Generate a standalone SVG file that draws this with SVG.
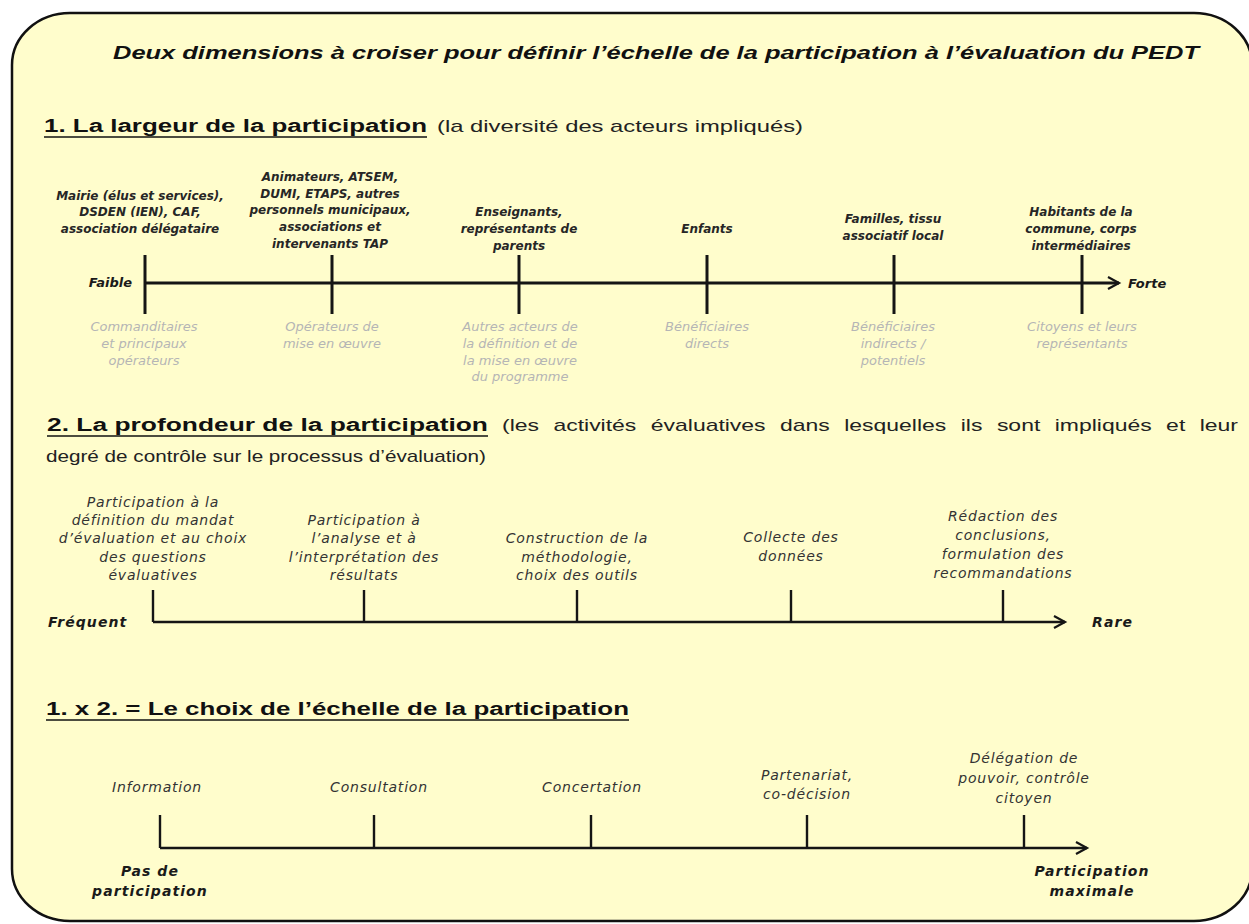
<svg xmlns="http://www.w3.org/2000/svg" width="1249" height="924" viewBox="0 0 1249 924">
<defs>
<style>
.frame{fill:#FFFDCC;stroke:#111;stroke-width:2.5}
.ttl{font-family:"Liberation Sans",Arial,sans-serif;font-size:18px;font-weight:bold;font-style:italic;fill:#111}
.hd{font-family:"Liberation Sans",Arial,sans-serif;font-size:18px;font-weight:bold;fill:#111}
.rg{font-family:"Liberation Sans",Arial,sans-serif;font-size:17px;fill:#222}
.ul{stroke:#111;stroke-width:1.6}
.t1{font-family:"DejaVu Sans",sans-serif;font-size:12px;font-weight:bold;font-style:oblique;fill:#262626;text-anchor:middle}
.e1{font-family:"DejaVu Sans",sans-serif;font-size:13px;font-weight:bold;font-style:oblique;fill:#1a1a1a}
.g1{font-family:"DejaVu Sans",sans-serif;font-size:13px;font-style:oblique;fill:#b5b5b5;text-anchor:middle}
.l2{font-family:"DejaVu Sans",sans-serif;font-size:14px;font-style:oblique;fill:#333;text-anchor:middle;letter-spacing:0.8px}
.b2{font-family:"DejaVu Sans",sans-serif;font-size:14px;font-weight:bold;font-style:oblique;fill:#1a1a1a;letter-spacing:1.1px}
.ax{stroke:#151515;stroke-width:2.4;fill:none}
.ax1{stroke:#151515;stroke-width:3;fill:none}
.tk{stroke:#151515;stroke-width:2.4}
.tk1{stroke:#151515;stroke-width:3}
</style>
<marker id="arr" markerUnits="userSpaceOnUse" markerWidth="16" markerHeight="16" viewBox="0 0 16 16" refX="13" refY="8" orient="auto">
<path d="M2,2 L13,8 L2,14" fill="none" stroke="#151515" stroke-width="2.2"/>
</marker>
</defs>

<rect class="frame" x="12" y="13" width="1240" height="908" rx="58" ry="52"/>

<g id="title">
<text class="ttl" x="113" y="59" textLength="1086" lengthAdjust="spacingAndGlyphs">Deux dimensions à croiser pour définir l’échelle de la participation à l’évaluation du PEDT</text>
</g>

<g id="heading1">
<text class="hd" x="44" y="132" textLength="383" lengthAdjust="spacingAndGlyphs">1. La largeur de la participation</text>
<line class="ul" x1="44" y1="137" x2="427" y2="137"/>
<text class="rg" x="437" y="132" textLength="366" lengthAdjust="spacingAndGlyphs">(la diversité des acteurs impliqués)</text>
</g>

<g id="heading2">
<text class="hd" x="47" y="431" textLength="441" lengthAdjust="spacingAndGlyphs">2. La profondeur de la participation</text>
<line class="ul" x1="47" y1="436" x2="488" y2="436"/>
<text class="rg" x="502" y="431" textLength="736" lengthAdjust="spacingAndGlyphs" word-spacing="6">(les activités évaluatives dans lesquelles ils sont impliqués et leur</text>
<text class="rg" x="46" y="462" textLength="440" lengthAdjust="spacingAndGlyphs">degré de contrôle sur le processus d’évaluation)</text>
</g>

<g id="heading3">
<text class="hd" x="46" y="715" textLength="583" lengthAdjust="spacingAndGlyphs">1. x 2. = Le choix de l’échelle de la participation</text>
<line class="ul" x1="46" y1="720" x2="629" y2="720"/>
</g>

<g id="connectors">
<line class="ax1" x1="145" y1="283" x2="1119" y2="283" marker-end="url(#arr)"/>
<line class="ax" x1="153" y1="622" x2="1065" y2="622" marker-end="url(#arr)"/>
<line class="ax" x1="160" y1="848" x2="1087" y2="848" marker-end="url(#arr)"/>
</g>

<g id="axis1-ends">
<text class="e1" x="132" y="287" text-anchor="end">Faible</text>
<text class="e1" x="1128" y="288">Forte</text>
</g>

<g id="n1-1">
<line class="tk1" x1="145" y1="255" x2="145" y2="314"/>
<text class="t1" x="140" y="200">Mairie (élus et services),</text>
<text class="t1" x="140" y="216">DSDEN (IEN), CAF,</text>
<text class="t1" x="140" y="233">association délégataire</text>
<text class="g1" x="144" y="331">Commanditaires</text>
<text class="g1" x="144" y="348">et principaux</text>
<text class="g1" x="144" y="365">opérateurs</text>
</g>
<g id="n1-2">
<line class="tk1" x1="332" y1="255" x2="332" y2="314"/>
<text class="t1" x="330" y="181">Animateurs, ATSEM,</text>
<text class="t1" x="330" y="198">DUMI, ETAPS, autres</text>
<text class="t1" x="330" y="214">personnels municipaux,</text>
<text class="t1" x="330" y="231">associations et</text>
<text class="t1" x="330" y="248">intervenants TAP</text>
<text class="g1" x="332" y="331">Opérateurs de</text>
<text class="g1" x="332" y="348">mise en œuvre</text>
</g>
<g id="n1-3">
<line class="tk1" x1="519" y1="255" x2="519" y2="314"/>
<text class="t1" x="519" y="216">Enseignants,</text>
<text class="t1" x="519" y="233">représentants de</text>
<text class="t1" x="519" y="250">parents</text>
<text class="g1" x="520" y="331">Autres acteurs de</text>
<text class="g1" x="520" y="348">la définition et de</text>
<text class="g1" x="520" y="365">la mise en œuvre</text>
<text class="g1" x="520" y="381">du programme</text>
</g>
<g id="n1-4">
<line class="tk1" x1="707" y1="255" x2="707" y2="314"/>
<text class="t1" x="707" y="233">Enfants</text>
<text class="g1" x="707" y="331">Bénéficiaires</text>
<text class="g1" x="707" y="348">directs</text>
</g>
<g id="n1-5">
<line class="tk1" x1="894" y1="255" x2="894" y2="314"/>
<text class="t1" x="893" y="223">Familles, tissu</text>
<text class="t1" x="893" y="240">associatif local</text>
<text class="g1" x="893" y="331">Bénéficiaires</text>
<text class="g1" x="893" y="348">indirects /</text>
<text class="g1" x="893" y="365">potentiels</text>
</g>
<g id="n1-6">
<line class="tk1" x1="1082" y1="255" x2="1082" y2="314"/>
<text class="t1" x="1081" y="216">Habitants de la</text>
<text class="t1" x="1081" y="233">commune, corps</text>
<text class="t1" x="1081" y="250">intermédiaires</text>
<text class="g1" x="1082" y="331">Citoyens et leurs</text>
<text class="g1" x="1082" y="348">représentants</text>
</g>

<g id="axis2-ends">
<text class="b2" x="48" y="627">Fréquent</text>
<text class="b2" x="1092" y="627">Rare</text>
</g>
<g id="n2-1">
<line class="tk" x1="153" y1="590" x2="153" y2="622"/>
<text class="l2" x="153" y="507">Participation à la</text>
<text class="l2" x="153" y="525">définition du mandat</text>
<text class="l2" x="153" y="543">d’évaluation et au choix</text>
<text class="l2" x="153" y="562">des questions</text>
<text class="l2" x="153" y="580">évaluatives</text>
</g>
<g id="n2-2">
<line class="tk" x1="364" y1="590" x2="364" y2="622"/>
<text class="l2" x="364" y="525">Participation à</text>
<text class="l2" x="364" y="543">l’analyse et à</text>
<text class="l2" x="364" y="562">l’interprétation des</text>
<text class="l2" x="364" y="580">résultats</text>
</g>
<g id="n2-3">
<line class="tk" x1="577" y1="590" x2="577" y2="622"/>
<text class="l2" x="577" y="543">Construction de la</text>
<text class="l2" x="577" y="562">méthodologie,</text>
<text class="l2" x="577" y="580">choix des outils</text>
</g>
<g id="n2-4">
<line class="tk" x1="791" y1="590" x2="791" y2="622"/>
<text class="l2" x="791" y="542">Collecte des</text>
<text class="l2" x="791" y="561">données</text>
</g>
<g id="n2-5">
<line class="tk" x1="1003" y1="590" x2="1003" y2="622"/>
<text class="l2" x="1003" y="521">Rédaction des</text>
<text class="l2" x="1003" y="540">conclusions,</text>
<text class="l2" x="1003" y="559">formulation des</text>
<text class="l2" x="1003" y="578">recommandations</text>
</g>

<g id="axis3-ends">
<text class="b2" x="150" y="876" text-anchor="middle">Pas de</text>
<text class="b2" x="150" y="896" text-anchor="middle">participation</text>
<text class="b2" x="1092" y="876" text-anchor="middle">Participation</text>
<text class="b2" x="1092" y="896" text-anchor="middle">maximale</text>
</g>
<g id="n3-1">
<line class="tk" x1="160" y1="815" x2="160" y2="848"/>
<text class="l2" x="157" y="792">Information</text>
</g>
<g id="n3-2">
<line class="tk" x1="374" y1="815" x2="374" y2="848"/>
<text class="l2" x="379" y="792">Consultation</text>
</g>
<g id="n3-3">
<line class="tk" x1="591" y1="815" x2="591" y2="848"/>
<text class="l2" x="592" y="792">Concertation</text>
</g>
<g id="n3-4">
<line class="tk" x1="807" y1="815" x2="807" y2="848"/>
<text class="l2" x="807" y="780">Partenariat,</text>
<text class="l2" x="807" y="799">co-décision</text>
</g>
<g id="n3-5">
<line class="tk" x1="1024" y1="815" x2="1024" y2="848"/>
<text class="l2" x="1024" y="763">Délégation de</text>
<text class="l2" x="1024" y="783">pouvoir, contrôle</text>
<text class="l2" x="1024" y="803">citoyen</text>
</g>
</svg>
